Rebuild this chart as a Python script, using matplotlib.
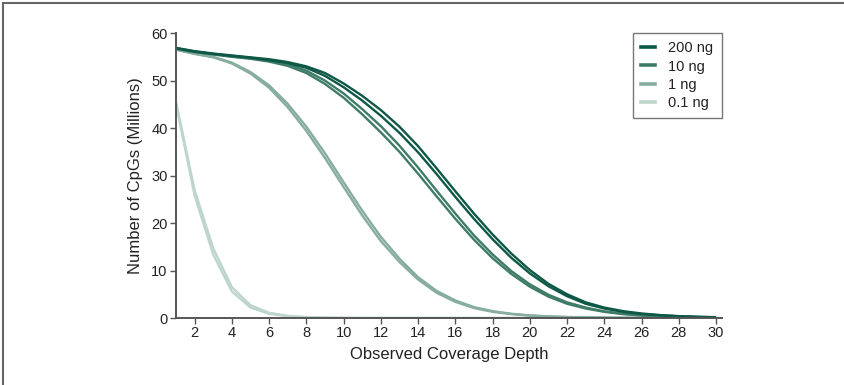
import matplotlib
matplotlib.use("Agg")
import matplotlib.pyplot as plt
from matplotlib.lines import Line2D

plt.rcParams['font.family'] = ['Liberation Sans', 'DejaVu Sans']

# coverage depth 1..30, CpGs in millions, two replicates per input amount
depth = list(range(1, 31))

ng200_a = [56.9, 56.2, 55.7, 55.3, 54.9, 54.5, 53.9, 53.0, 51.6, 49.4, 46.8, 43.8, 40.3, 36.2, 31.5,
           26.7, 22.0, 17.6, 13.6, 10.1, 7.2, 5.0, 3.3, 2.2, 1.45, 0.95, 0.62, 0.40, 0.26, 0.17]
ng200_b = [56.8, 56.1, 55.6, 55.2, 54.8, 54.3, 53.7, 52.7, 51.0, 48.6, 45.8, 42.6, 39.0, 34.9, 30.3,
           25.5, 20.9, 16.6, 12.7, 9.4, 6.7, 4.6, 3.0, 2.0, 1.3, 0.85, 0.55, 0.36, 0.23, 0.15]
ng10_a = [56.8, 56.1, 55.6, 55.1, 54.7, 54.2, 53.4, 52.1, 50.0, 47.3, 44.0, 40.4, 36.3, 31.7, 26.8,
          22.0, 17.4, 13.4, 9.9, 7.1, 4.9, 3.3, 2.2, 1.4, 0.9, 0.58, 0.37, 0.24, 0.15, 0.10]
ng10_b = [56.7, 56.0, 55.5, 55.0, 54.6, 54.0, 53.1, 51.6, 49.3, 46.4, 42.9, 39.1, 35.0, 30.4, 25.6,
          20.9, 16.5, 12.6, 9.3, 6.6, 4.5, 3.0, 2.0, 1.3, 0.82, 0.52, 0.33, 0.21, 0.13, 0.08]
ng1_a = [56.6, 55.7, 55.0, 53.8, 51.8, 49.0, 45.1, 40.3, 34.7, 28.6, 22.6, 17.1, 12.5, 8.6, 5.7,
         3.7, 2.3, 1.45, 0.9, 0.55, 0.34, 0.21, 0.13, 0.08, 0.05, 0.03, 0.02, 0.01, 0.01, 0.0]
ng1_b = [56.5, 55.6, 54.9, 53.6, 51.5, 48.5, 44.4, 39.4, 33.7, 27.6, 21.6, 16.2, 11.8, 8.1, 5.3,
         3.4, 2.1, 1.3, 0.82, 0.5, 0.31, 0.19, 0.12, 0.07, 0.04, 0.03, 0.02, 0.01, 0.01, 0.0]
ng01_a = [45.6, 26.9, 14.7, 6.5, 2.7, 1.1, 0.45, 0.18, 0.07, 0.03, 0.01, 0.0, 0.0, 0.0, 0.0,
          0.0, 0.0, 0.0, 0.0, 0.0, 0.0, 0.0, 0.0, 0.0, 0.0, 0.0, 0.0, 0.0, 0.0, 0.0]
ng01_b = [45.1, 25.8, 13.4, 5.6, 2.2, 0.9, 0.36, 0.14, 0.06, 0.02, 0.01, 0.0, 0.0, 0.0, 0.0,
          0.0, 0.0, 0.0, 0.0, 0.0, 0.0, 0.0, 0.0, 0.0, 0.0, 0.0, 0.0, 0.0, 0.0, 0.0]

labels = ['200 ng', '10 ng', '1 ng', '0.1 ng']
colors = ['#0d5846', '#3f7c68', '#86ad9f', '#bdd5cb']
series = [(ng200_a, ng200_b), (ng10_a, ng10_b), (ng1_a, ng1_b), (ng01_a, ng01_b)]

fig = plt.figure(figsize=(8.44, 3.85), dpi=100)
ax = fig.add_axes([0.2085, 0.174, 0.6465, 0.740])

# lightest first so the dark curves sit on top
for (rep_a, rep_b), col in reversed(list(zip(series, colors))):
    ax.plot(depth, rep_a, color=col, lw=1.7, solid_capstyle='butt')
    ax.plot(depth, rep_b, color=col, lw=1.7, solid_capstyle='butt')

ax.set_xlim(1, 30.3)
ax.set_ylim(0, 60)
ax.set_xticks(range(2, 31, 2))
ax.set_yticks(range(0, 61, 10))

for side in ['top', 'right']:
    ax.spines[side].set_visible(False)
for side in ['left', 'bottom']:
    ax.spines[side].set_color('#555555')
    ax.spines[side].set_linewidth(1.4)
ax.tick_params(direction='out', length=4, width=1, color='#555555',
               labelsize=10.5, labelcolor='#222222', pad=2)

ax.set_xlabel('Observed Coverage Depth', fontsize=12, color='#222222', labelpad=5)
ax.set_ylabel('Number of CpGs (Millions)', fontsize=12, color='#222222', labelpad=6)

handles = [Line2D([], [], color=c, lw=2.6) for c in colors]
leg = ax.legend(handles, labels, loc='upper right', bbox_to_anchor=(1.0, 1.0),
                borderaxespad=0, fontsize=10.5, handlelength=1.0, handletextpad=0.9,
                labelspacing=0.3, borderpad=0.55, fancybox=False, framealpha=1)
leg.get_frame().set_edgecolor('#777777')
leg.get_frame().set_linewidth(1.0)
for t in leg.get_texts():
    t.set_color('#222222')

# outer frame lines along the top and left edges
fig.add_artist(Line2D([0.003, 0.003], [0, 0.991], transform=fig.transFigure,
                      color='#666666', lw=1.5))
fig.add_artist(Line2D([0.003, 1.0], [0.991, 0.991], transform=fig.transFigure,
                      color='#666666', lw=1.5))

fig.savefig('out.png', dpi=100)
